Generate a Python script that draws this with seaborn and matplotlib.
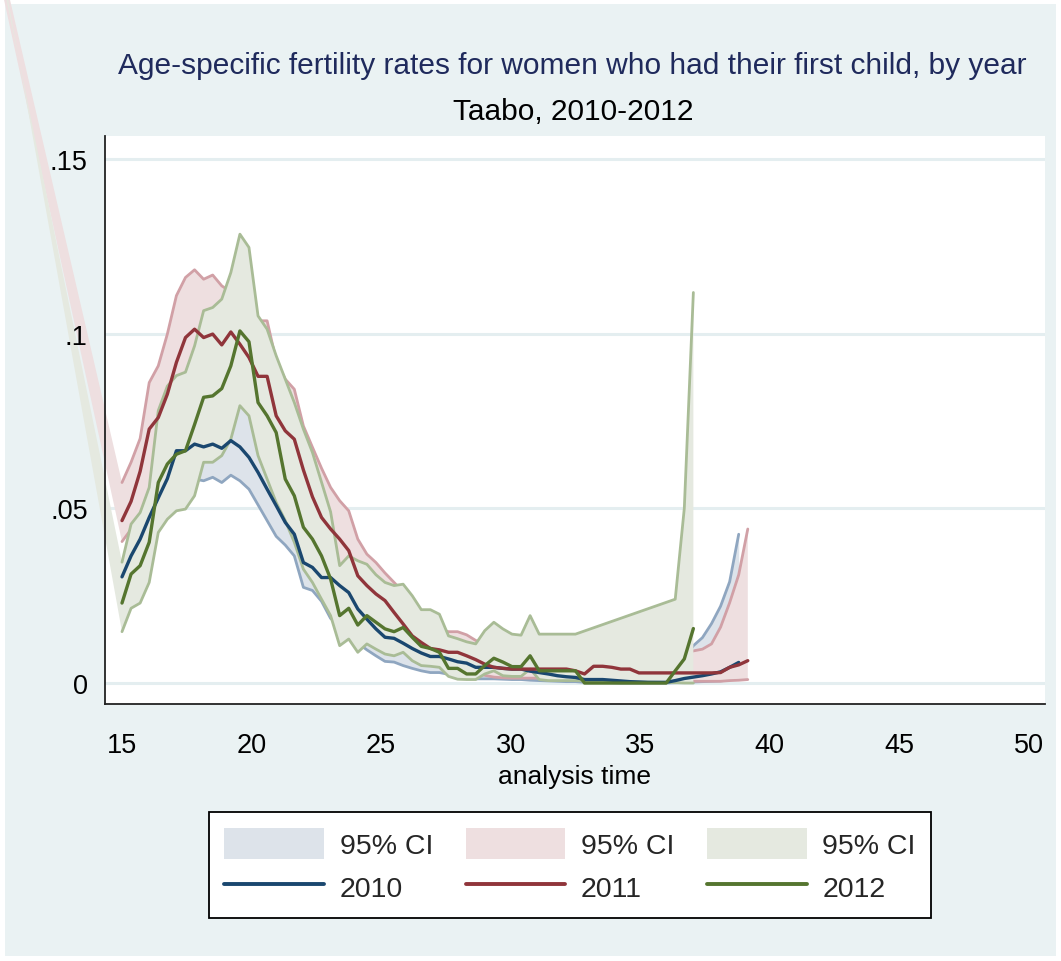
import matplotlib
matplotlib.use("Agg")
import matplotlib.pyplot as plt
from matplotlib.patches import Rectangle, Patch
from matplotlib.lines import Line2D
import numpy as np
import pandas as pd
import seaborn as sns

sns.set_theme(style="white")
plt.rcParams['font.family'] = ['Liberation Sans', 'DejaVu Sans']

# ---------------- data ----------------
age = [15.0, 15.35, 15.7, 16.05, 16.4, 16.75, 17.1, 17.45, 17.8, 18.15,
       18.5, 18.85, 19.2, 19.55, 19.9, 20.25, 20.6, 20.95, 21.3, 21.65,
       22.0, 22.35, 22.7, 23.05, 23.4, 23.75, 24.1, 24.45, 24.8, 25.15,
       25.5, 25.85, 26.2, 26.55, 26.9, 27.25, 27.6, 27.95, 28.3, 28.65,
       29.0, 29.35, 29.7, 30.05, 30.4, 30.75, 31.1, 31.45, 31.8, 32.15,
       32.5, 32.85, 33.2, 33.55, 33.9, 34.25, 34.6, 34.95, 35.3, 35.65,
       36.0, 36.35, 36.7, 37.05, 37.4, 37.75, 38.1, 38.45, 38.8, 39.15]

rate_2010 = [0.0304, 0.0364, 0.0412, 0.0474, 0.0530, 0.0585, 0.0665, 0.0665, 0.0684, 0.0676,
             0.0684, 0.0672, 0.0694, 0.0676, 0.0646, 0.0603, 0.0555, 0.0508, 0.0460, 0.0426,
             0.0345, 0.0331, 0.0302, 0.0302, 0.0279, 0.0259, 0.0212, 0.0183, 0.0155, 0.0131,
             0.0128, 0.0114, 0.0099, 0.0086, 0.0076, 0.0076, 0.0069, 0.0061, 0.0057, 0.0045,
             0.0045, 0.0045, 0.0042, 0.0040, 0.0040, 0.0034, 0.0030, 0.0026, 0.0021, 0.0018,
             0.0016, 0.0010, 0.0010, 0.0010, 0.0008, 0.0006, 0.0004, 0.0003, 0.0002, 0.0002,
             0.0002, 0.0007, 0.0013, 0.0017, 0.0021, 0.0026, 0.0032, 0.0045, 0.0059]
lo_2010 = [0.022, 0.027, 0.031, 0.036, 0.044, 0.048, 0.053, 0.057, 0.0584, 0.0579,
           0.0589, 0.0574, 0.0595, 0.0579, 0.0555, 0.051, 0.0465, 0.042, 0.0395, 0.0364,
           0.0274, 0.0265, 0.0234, 0.0185, 0.0165, 0.015, 0.0115, 0.0095, 0.0078, 0.0062,
           0.006, 0.005, 0.0042, 0.0035, 0.003, 0.003, 0.0025, 0.002, 0.0018, 0.0012,
           0.0012, 0.0012, 0.0011, 0.001, 0.001, 0.0008, 0.0007, 0.0006, 0.0005, 0.0004,
           0.0004, 0.0002, 0.0002, 0.0002, 0.0001, 0.0, 0.0, 0.0, 0.0, 0.0,
           0.0, 0.0001, 0.0002, 0.0003, 0.0004, 0.0005, 0.0006, 0.0009, 0.0012]
hi_2010 = [0.034, 0.043, 0.048, 0.054, 0.060, 0.066, 0.075, 0.077, 0.078, 0.078,
           0.079, 0.078, 0.081, 0.082, 0.079, 0.069, 0.064, 0.059, 0.053, 0.049,
           0.042, 0.040, 0.037, 0.033, 0.032, 0.030, 0.025, 0.022, 0.019, 0.017,
           0.016, 0.015, 0.013, 0.012, 0.011, 0.011, 0.010, 0.0095, 0.009, 0.008,
           0.008, 0.008, 0.0075, 0.0072, 0.0072, 0.0065, 0.006, 0.0055, 0.005, 0.0045,
           0.0042, 0.0035, 0.0035, 0.0035, 0.003, 0.0028, 0.0025, 0.0022, 0.0022, 0.0022,
           0.0025, 0.004, 0.007, 0.0107, 0.013, 0.017, 0.022, 0.029, 0.0426]

rate_2011 = [0.0465, 0.0520, 0.0606, 0.0727, 0.0760, 0.0827, 0.0918, 0.0989, 0.1013, 0.0989,
             0.0999, 0.0968, 0.1005, 0.0970, 0.0932, 0.0878, 0.0878, 0.0765, 0.0722, 0.0698,
             0.0610, 0.0533, 0.0474, 0.0441, 0.0412, 0.0379, 0.0307, 0.0279, 0.0255, 0.0236,
             0.0202, 0.0169, 0.0135, 0.0116, 0.0099, 0.0095, 0.0088, 0.0088, 0.0078, 0.0067,
             0.0054, 0.0045, 0.0042, 0.0040, 0.0040, 0.0040, 0.0040, 0.0040, 0.0040, 0.0040,
             0.0035, 0.0026, 0.0048, 0.0048, 0.0045, 0.0040, 0.0040, 0.0029, 0.0029, 0.0029,
             0.0029, 0.0029, 0.0029, 0.0029, 0.0029, 0.0029, 0.0030, 0.0045, 0.0052, 0.0064]
lo_2011 = [0.0405, 0.0440, 0.0480, 0.0550, 0.0620, 0.0670, 0.0740, 0.0810, 0.0840, 0.0830,
           0.0830, 0.0810, 0.0840, 0.0810, 0.0780, 0.0730, 0.0730, 0.0620, 0.0580, 0.0560,
           0.0500, 0.0430, 0.0370, 0.0340, 0.0310, 0.0280, 0.0220, 0.0190, 0.0170, 0.0160,
           0.0130, 0.0110, 0.0085, 0.0070, 0.0055, 0.0050, 0.0045, 0.0045, 0.0040, 0.0030,
           0.0022, 0.0017, 0.0015, 0.0014, 0.0014, 0.0014, 0.0014, 0.0013, 0.0013, 0.0012,
           0.0011, 0.0007, 0.0013, 0.0013, 0.0012, 0.0010, 0.0010, 0.0006, 0.0005, 0.0005,
           0.0005, 0.0005, 0.0005, 0.0005, 0.0005, 0.0005, 0.0005, 0.0007, 0.0008, 0.0010]
hi_2011 = [0.0574, 0.0632, 0.0700, 0.0860, 0.0908, 0.0999, 0.1109, 0.1161, 0.1183, 0.1156,
           0.1168, 0.1137, 0.1120, 0.1130, 0.1100, 0.1037, 0.1037, 0.0923, 0.0870, 0.0841,
           0.0736, 0.0675, 0.0615, 0.0560, 0.0522, 0.0493, 0.0412, 0.0369, 0.0345, 0.0315,
           0.0288, 0.0260, 0.0220, 0.0190, 0.0170, 0.0155, 0.0147, 0.0147, 0.0138, 0.0122,
           0.0110, 0.0105, 0.0102, 0.0100, 0.0100, 0.0100, 0.0100, 0.0100, 0.0100, 0.0098,
           0.0092, 0.0080, 0.0105, 0.0105, 0.0100, 0.0095, 0.0095, 0.0085, 0.0085, 0.0085,
           0.0085, 0.0085, 0.0085, 0.0092, 0.0097, 0.0112, 0.0160, 0.0230, 0.0310, 0.0441]

rate_2012 = [0.0229, 0.0312, 0.0336, 0.0403, 0.0574, 0.0627, 0.0655, 0.0665, 0.0740, 0.0818,
             0.0822, 0.0843, 0.0908, 0.1008, 0.0977, 0.0803, 0.0765, 0.0717, 0.0584, 0.0536,
             0.0446, 0.0412, 0.0364, 0.0298, 0.0193, 0.0214, 0.0166, 0.0193, 0.0174, 0.0155,
             0.0147, 0.0159, 0.0131, 0.0105, 0.0099, 0.0088, 0.0042, 0.0042, 0.0026, 0.0026,
             0.0050, 0.0071, 0.0060, 0.0047, 0.0047, 0.0078, 0.0035, 0.0035, 0.0035, 0.0035,
             0.0035, 0.0, 0.0, 0.0, 0.0, 0.0, 0.0, 0.0, 0.0, 0.0,
             0.0, 0.0035, 0.0069, 0.0156]

# 95% CI of 2011 and 2012 also carry an estimate at analysis time 0 (off the plot)
ci_first_x = 0.0
ci_first_2011 = (0.5515, 0.537)   # (lower, upper)
ci_first_2012 = (0.632, 0.577)

# 2012 CI is missing between 32.5 and 36.35
ci_age_2012 = age[0:51] + age[61:64]
lo_2012 = [0.0147, 0.0214, 0.0229, 0.0288, 0.0431, 0.0469, 0.0493, 0.0498, 0.0536, 0.0632,
           0.0632, 0.0651, 0.0698, 0.0794, 0.0765, 0.0651, 0.0584, 0.0517, 0.0465, 0.0403,
           0.0326, 0.0288, 0.0240, 0.0193, 0.0107, 0.0126, 0.0088, 0.0112, 0.0097, 0.0083,
           0.0078, 0.0088, 0.0064, 0.0050, 0.0048, 0.0045, 0.0019, 0.0011, 0.0010, 0.0010,
           0.0026, 0.0035, 0.0021, 0.0019, 0.0019, 0.0040, 0.0010, 0.0007, 0.0007, 0.0007,
           0.0007, 0.0001, 0.0, 0.0]
hi_2012 = [0.0346, 0.0455, 0.0488, 0.0560, 0.0780, 0.0850, 0.0880, 0.0890, 0.0965, 0.1066,
           0.1075, 0.1099, 0.1175, 0.1285, 0.1247, 0.1051, 0.1013, 0.0937, 0.0870, 0.0803,
           0.0727, 0.0660, 0.0575, 0.0490, 0.0336, 0.0364, 0.0350, 0.0340, 0.0310, 0.0288,
           0.0279, 0.0283, 0.0250, 0.0210, 0.0210, 0.0197, 0.0135, 0.0127, 0.0118, 0.0112,
           0.0150, 0.0174, 0.0155, 0.0140, 0.0137, 0.0193, 0.0140, 0.0140, 0.0140, 0.0140,
           0.0140, 0.0240, 0.0500, 0.1118]

years = ["2010", "2011", "2012"]
xticks = [15, 20, 25, 30, 35, 40, 45, 50]
yticks = [0, 0.05, 0.1, 0.15]
ytick_labels = ["0", ".05", ".1", ".15"]
title = "Age-specific fertility rates for women who had their first child, by year"
subtitle = "Taabo, 2010-2012"
xlabel = "analysis time"

# ---------------- styling ----------------
line_col = {"2010": "#1A476F", "2011": "#90353B", "2012": "#55752F"}
fill_col = {"2010": "#DDE3EA", "2011": "#EEDFE0", "2012": "#E5E9E0"}
edge_col = {"2010": "#8FA6C0", "2011": "#D1A0A6", "2012": "#A9BC96"}
BG = "#EAF2F3"

W, H = 1061, 962
fig = plt.figure(figsize=(W / 100, H / 100), dpi=100, facecolor="white")
bg = Rectangle((5 / W, 5 / H), (W - 10) / W, (H - 10) / H, transform=fig.transFigure,
               facecolor=BG, edgecolor="none", zorder=-5)
fig.patches.append(bg)

L, R, T, B = 105, 1045, 137, 705
ax = fig.add_axes([L / W, 1 - B / H, (R - L) / W, (B - T) / H])
ax.set_facecolor("white")
ax.set_axisbelow(False)

# horizontal grid lines (below the data)
for yv in yticks:
    ax.axhline(yv, color="#E4EEF0", linewidth=2.2, zorder=0.5)

# ---- CI bands ----
EW = 2.0
# 2010
ax.fill_between(age[:69], lo_2010, hi_2010, color=fill_col["2010"], linewidth=0, zorder=1.0)
sns.lineplot(x=age[:69], y=lo_2010, ax=ax, color=edge_col["2010"], linewidth=EW, zorder=1.1, sort=False)
sns.lineplot(x=age[:69], y=hi_2010, ax=ax, color=edge_col["2010"], linewidth=EW, zorder=1.1, sort=False)

# 2011
x11 = [ci_first_x] + age
lo11 = [ci_first_2011[0]] + lo_2011
hi11 = [ci_first_2011[1]] + hi_2011
pc = ax.fill_between(x11, lo11, hi11, color=fill_col["2011"], linewidth=0, zorder=1.2, clip_on=False)
pc.set_clip_path(bg)
sns.lineplot(x=age, y=lo_2011, ax=ax, color=edge_col["2011"], linewidth=EW, zorder=1.3, sort=False)
sns.lineplot(x=age, y=hi_2011, ax=ax, color=edge_col["2011"], linewidth=EW, zorder=1.3, sort=False)

# 2012
x12 = [ci_first_x] + ci_age_2012
lo12 = [ci_first_2012[0]] + lo_2012
hi12 = [ci_first_2012[1]] + hi_2012
pc = ax.fill_between(x12, lo12, hi12, color=fill_col["2012"], linewidth=0, zorder=1.4, clip_on=False)
pc.set_clip_path(bg)
sns.lineplot(x=ci_age_2012, y=lo_2012, ax=ax, color=edge_col["2012"], linewidth=EW, zorder=1.5, sort=False)
sns.lineplot(x=ci_age_2012, y=hi_2012, ax=ax, color=edge_col["2012"], linewidth=EW, zorder=1.5, sort=False)

# ---- estimate lines ----
LW = 2.4
sns.lineplot(x=age[:69], y=rate_2010, ax=ax, color=line_col["2010"], linewidth=LW, zorder=3, sort=False)
sns.lineplot(x=age, y=rate_2011, ax=ax, color=line_col["2011"], linewidth=LW, zorder=3.1, sort=False)
sns.lineplot(x=age[:64], y=rate_2012, ax=ax, color=line_col["2012"], linewidth=LW, zorder=3.2, sort=False)

# ---- axes ----
ax.set_xlim(14.344, 50.62)
ax.set_ylim(-0.006, 0.1566)
ax.set_xticks(xticks)
ax.set_xticklabels([str(t) for t in xticks])
ax.set_yticks(yticks)
ax.set_yticklabels(ytick_labels)
ax.grid(False)
for s in ["top", "right"]:
    ax.spines[s].set_visible(False)
for s in ["left", "bottom"]:
    ax.spines[s].set_color("#222222")
    ax.spines[s].set_linewidth(1.3)
ax.tick_params(axis="both", direction="out", length=7.5, width=1.2, color="#222222",
               labelsize=19.5, labelcolor="black")
ax.tick_params(axis="y", pad=5)
ax.tick_params(axis="x", pad=13)
ax.set_xlabel(xlabel, fontsize=19, color="black", labelpad=4)
ax.set_ylabel("")

# ---- titles ----
fig.text(572 / W, 1 - 66 / H, title, ha="center", va="center", fontsize=21.5, color="#1F2A5C")
fig.text(573 / W, 1 - 112 / H, subtitle, ha="center", va="center", fontsize=21.5, color="black")

# ---- legend ----
handles, labels = [], []
for y in years:
    handles.append(Patch(facecolor=fill_col[y], edgecolor="none"))
    labels.append("95% CI")
    handles.append(Line2D([0], [0], color=line_col[y], linewidth=2.8))
    labels.append(y)
leg = fig.legend(handles, labels, ncol=3, loc="center",
                 bbox_to_anchor=(570 / W, 1 - 866 / H),
                 frameon=True, fancybox=False, shadow=False, framealpha=1,
                 facecolor="white", edgecolor="black", fontsize=20.5,
                 handlelength=3.5, handleheight=1.3, handletextpad=0.55,
                 columnspacing=1.15, labelspacing=0.45, borderpad=0.55)
leg.get_frame().set_linewidth(1.3)

fig.savefig("out.png", dpi=100, facecolor="white")
